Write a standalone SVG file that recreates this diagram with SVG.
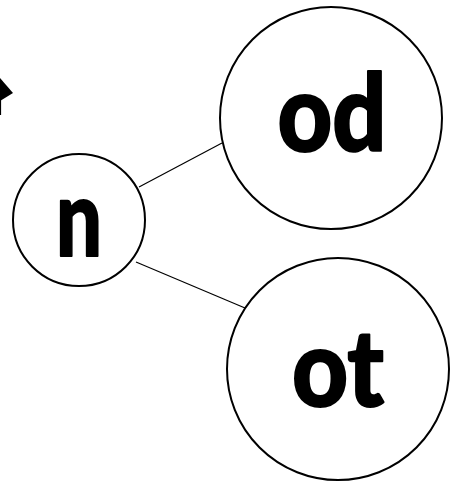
<svg xmlns="http://www.w3.org/2000/svg" width="456" height="482" viewBox="0 0 456 482">
<style>
.node circle{fill:#fff;stroke:#000;stroke-width:2}
.node text{font-family:Lato,"Liberation Sans",sans-serif;font-weight:900;font-size:106px;fill:#000;stroke:#000;stroke-width:2;stroke-linejoin:round;text-anchor:middle}
.edges line{stroke:#000;stroke-width:1.2}
</style>
<rect width="456" height="482" fill="#fff"/>
<g id="edges" class="edges">
<line x1="139" y1="187" x2="222" y2="143"/>
<line x1="136" y1="262" x2="245" y2="308"/>
<polygon points="0,78 13,93 0,101" fill="#000"/>
<line x1="0.5" y1="100" x2="0.5" y2="115" stroke="#888" stroke-width="1"/>
</g>
<g id="node-n" class="node">
<circle cx="79" cy="220" r="66"/>
<text x="79" y="256" textLength="46" lengthAdjust="spacingAndGlyphs">n</text>
</g>
<g id="node-od" class="node">
<circle cx="331" cy="118" r="111"/>
<text x="332" y="151" textLength="109" lengthAdjust="spacingAndGlyphs">od</text>
</g>
<g id="node-ot" class="node">
<circle cx="338" cy="369" r="111"/>
<text x="338" y="406" textLength="92" lengthAdjust="spacingAndGlyphs">ot</text>
</g>
</svg>
